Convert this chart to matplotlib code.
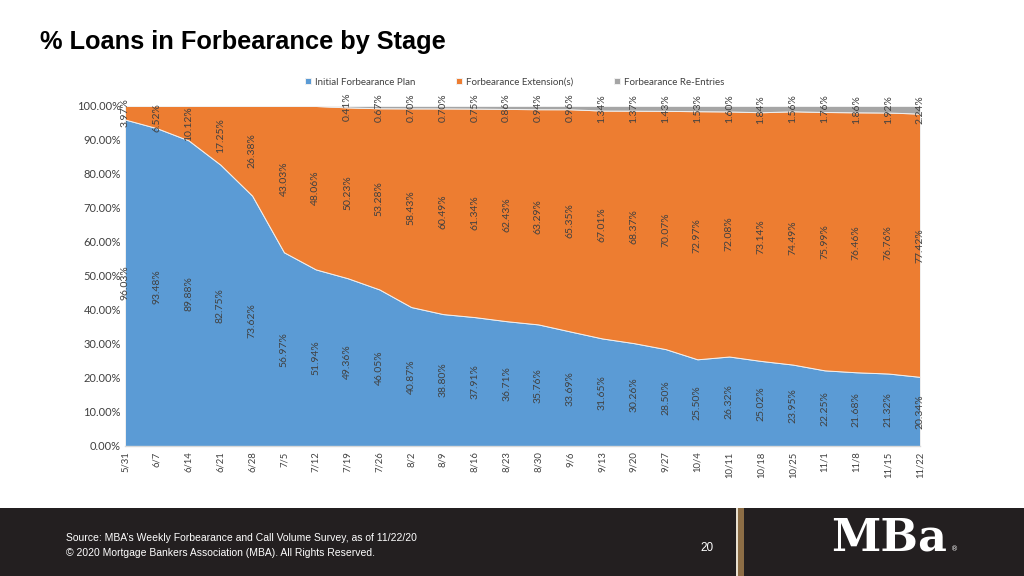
import numpy as np
import matplotlib.pyplot as plt
from matplotlib.patches import Rectangle

# Weekly survey dates
dates = ["5/31", "6/7", "6/14", "6/21", "6/28", "7/5", "7/12", "7/19", "7/26",
         "8/2", "8/9", "8/16", "8/23", "8/30", "9/6", "9/13", "9/20", "9/27",
         "10/4", "10/11", "10/18", "10/25", "11/1", "11/8", "11/15", "11/22"]

# Share of loans in forbearance by stage (%)
initial_plan = [96.03, 93.48, 89.88, 82.75, 73.62, 56.97, 51.94, 49.36, 46.05,
                40.87, 38.80, 37.91, 36.71, 35.76, 33.69, 31.65, 30.26, 28.50,
                25.50, 26.32, 25.02, 23.95, 22.25, 21.68, 21.32, 20.34]
extensions = [3.97, 6.52, 10.12, 17.25, 26.38, 43.03, 48.06, 50.23, 53.28,
              58.43, 60.49, 61.34, 62.43, 63.29, 65.35, 67.01, 68.37, 70.07,
              72.97, 72.08, 73.14, 74.49, 75.99, 76.46, 76.76, 77.42]
re_entries = [0, 0, 0, 0, 0, 0, 0, 0.41, 0.67, 0.70, 0.70, 0.75, 0.86, 0.94,
              0.96, 1.34, 1.37, 1.43, 1.53, 1.60, 1.84, 1.56, 1.76, 1.86, 1.92, 2.24]

series_names = ["Initial Forbearance Plan", "Forbearance Extension(s)", "Forbearance Re-Entries"]
colors = ["#5B9BD5", "#ED7D31", "#A5A5A5"]

W, H = 1024, 576
fig = plt.figure(figsize=(W / 100, H / 100), dpi=100)
fig.patch.set_facecolor("white")

chart_font = "Lato"

# plot area in pixel coords
left, right, top, bottom = 125, 920, 106, 446
ax = fig.add_axes([left / W, 1 - bottom / H, (right - left) / W, (bottom - top) / H])

x = np.arange(len(dates))
ys = [np.array(initial_plan), np.array(extensions), np.array(re_entries)]
ax.stackplot(x, *ys, colors=colors, labels=series_names,
             edgecolor="#F0F0F0", linewidth=0.7)

ax.set_xlim(0, len(dates) - 1)
ax.set_ylim(0, 100)
ax.set_yticks(np.arange(0, 101, 10))
ax.set_yticklabels([f"{v:.2f}%" for v in np.arange(0, 101, 10)],
                   fontsize=8, color="#404040", family=chart_font)
ax.set_xticks(x)
ax.set_xticklabels(dates, rotation=90, fontsize=6.8, color="#404040", family=chart_font)
ax.tick_params(length=0, pad=4)
ax.tick_params(axis="y", pad=3)
for s in ["top", "left", "right"]:
    ax.spines[s].set_visible(False)
ax.spines["bottom"].set_color("#D9D9D9")
ax.spines["bottom"].set_linewidth(1)

# data labels at the middle of each band
base = np.zeros(len(dates))
for vals in ys:
    for i, v in enumerate(vals):
        if v > 0:
            ax.text(i, base[i] + v / 2, f"{v:.2f}%", rotation=90, ha="center",
                    va="center", fontsize=7.5, color="#404040", family=chart_font)
    base = base + vals

leg = ax.legend(loc="lower center", bbox_to_anchor=(0.49, 1.045), ncol=3,
                frameon=False, handlelength=0.6, handleheight=0.6,
                handletextpad=0.4, columnspacing=4.2, borderaxespad=0,
                prop={"family": chart_font, "size": 7})
for t in leg.get_texts():
    t.set_color("#404040")

# title
fig.text(40 / W, 1 - 42 / H, "% Loans in Forbearance by Stage", fontsize=18.3,
         fontweight="bold", family="Liberation Sans", va="center", ha="left", color="black")

# footer band
fig.patches.append(Rectangle((0, 0), 1, (H - 508) / H, transform=fig.transFigure,
                             facecolor="#231F20", edgecolor="none", zorder=0))
fig.patches.append(Rectangle((736 / W, 0), 1.5 / W, (H - 508) / H, transform=fig.transFigure,
                             facecolor="#E8E0D0", edgecolor="none", zorder=1))
fig.patches.append(Rectangle((738 / W, 0), 6 / W, (H - 508) / H, transform=fig.transFigure,
                             facecolor="#8C6D45", edgecolor="none", zorder=1))

footer_font = ["Liberation Sans Narrow", "Liberation Sans"]
fig.text(66 / W, 1 - 538 / H, "Source: MBA\u2019s Weekly Forbearance and Call Volume Survey, as of 11/22/20",
         fontsize=7.5, color="white", family=footer_font, va="center", ha="left")
fig.text(66 / W, 1 - 553 / H, "\u00a9 2020 Mortgage Bankers Association (MBA). All Rights Reserved.",
         fontsize=7.5, color="white", family=footer_font, va="center", ha="left")
fig.text(707 / W, 1 - 548 / H, "20", fontsize=8.5, color="white",
         family="Liberation Sans", va="center", ha="center")
fig.text(889 / W, 1 - 538 / H, "MBa", fontsize=32, fontweight="bold", color="white",
         family="DejaVu Serif", va="center", ha="center")
fig.text(955 / W, 1 - 549 / H, "\u00ae", fontsize=5, color="white",
         family="DejaVu Sans", va="center", ha="center")

fig.savefig("out.png", dpi=100, facecolor=fig.get_facecolor())
